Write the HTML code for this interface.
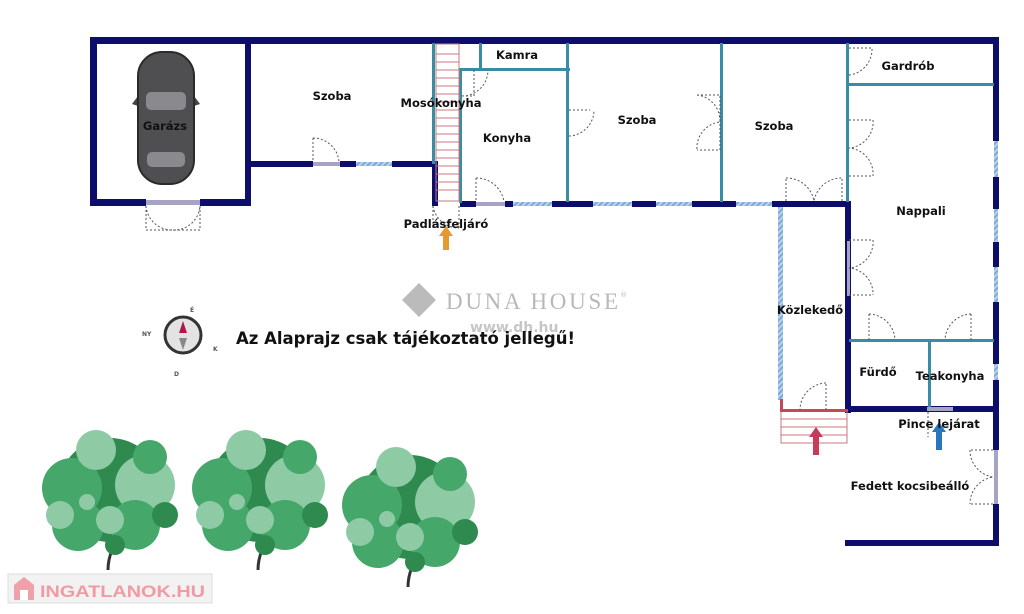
<!DOCTYPE html>
<html><head><meta charset="utf-8"><style>
html,body{margin:0;padding:0;background:#fff;width:1024px;height:614px;overflow:hidden}
svg{display:block}
text{font-family:"DejaVu Sans","Liberation Sans",sans-serif;font-weight:bold;fill:#111}
</style></head><body>
<svg width="1024" height="614" viewBox="0 0 1024 614" xmlns="http://www.w3.org/2000/svg">
<defs>
<pattern id="h" width="4" height="4" patternUnits="userSpaceOnUse" patternTransform="rotate(45)">
<rect width="4" height="4" fill="#b9d3ea"/><rect width="2" height="4" fill="#7fa9d6"/></pattern>
</defs>
<g fill="#0d0d6b">
<rect x="90" y="37" width="909" height="7"/>
<rect x="90" y="37" width="7" height="169"/>
<rect x="90" y="199" width="56" height="7"/>
<rect x="200" y="199" width="51" height="7"/>
<rect x="245" y="37" width="6" height="169"/>
<rect x="245" y="161" width="68" height="6"/>
<rect x="340" y="161" width="16" height="6"/>
<rect x="392" y="161" width="45" height="6"/>
<rect x="432" y="161" width="6" height="45"/>
<rect x="460" y="201" width="16" height="6"/>
<rect x="505" y="201" width="8" height="6"/>
<rect x="552" y="201" width="41" height="6"/>
<rect x="632" y="201" width="24" height="6"/>
<rect x="692" y="201" width="44" height="6"/>
<rect x="772" y="201" width="79" height="6"/>
<rect x="845" y="201" width="6" height="212"/>
<rect x="845" y="406" width="154" height="6"/>
<rect x="993" y="37" width="6" height="104"/>
<rect x="993" y="177" width="6" height="32"/>
<rect x="993" y="242" width="6" height="25"/>
<rect x="993" y="302" width="6" height="62"/>
<rect x="993" y="380" width="6" height="70"/>
<rect x="993" y="504" width="6" height="42"/>
<rect x="845" y="540" width="154" height="6"/>
</g>
<g fill="url(#h)">
<rect x="356" y="162" width="36" height="4"/>
<rect x="513" y="202" width="39" height="4"/>
<rect x="593" y="202" width="39" height="4"/>
<rect x="656" y="202" width="36" height="4"/>
<rect x="736" y="202" width="36" height="4"/>
<rect x="994" y="141" width="4" height="36"/>
<rect x="994" y="209" width="4" height="33"/>
<rect x="994" y="267" width="4" height="35"/>
<rect x="994" y="364" width="4" height="16"/>
<rect x="778" y="207" width="5" height="193"/>
</g>
<g fill="#a7a3c4">
<rect x="313" y="162" width="27" height="4"/>
<rect x="476" y="202" width="29" height="4"/>
<rect x="146" y="200" width="54" height="5"/>
<rect x="847" y="241" width="3" height="55"/>
<rect x="994" y="450" width="4" height="54"/>
<rect x="927" y="407" width="26" height="4"/>
</g>
<g fill="#3a8ba4">
<rect x="432" y="43" width="3" height="121"/>
<rect x="459" y="69" width="3" height="134"/>
<rect x="479" y="43" width="3" height="28"/>
<rect x="459" y="68" width="111" height="3"/>
<rect x="566" y="43" width="3" height="159"/>
<rect x="720" y="43" width="3" height="159"/>
<rect x="846" y="43" width="3" height="159"/>
<rect x="846" y="83" width="148" height="3"/>
<rect x="849" y="339" width="145" height="3"/>
<rect x="928" y="339" width="3" height="68"/>
</g>
<g stroke="#c9797e" stroke-width="1" fill="none">
<rect x="436" y="44" width="23" height="157"/>
<path d="M436 54H459M436 62H459M436 70H459M436 78H459M436 86H459M436 94H459M436 102H459M436 110H459M436 118H459M436 126H459M436 134H459M436 142H459M436 150H459M436 158H459M436 166H459M436 174H459M436 182H459M436 190H459"/>
<rect x="781" y="411" width="66" height="32"/>
<path d="M781 419H847M781 427H847M781 435H847"/>
</g>
<rect x="780" y="399" width="3" height="12" fill="#c24a55"/>
<rect x="780" y="409" width="68" height="3" fill="#c24a55"/>
<g stroke="#555" stroke-width="1" fill="none" stroke-dasharray="2,2">
<path d="M313 138V162M313 138A26 26 0 0 1 339 162"/>
<path d="M476 178V202M476 178A28 28 0 0 1 504 202"/>
<path d="M462 96H474V70M462 96A26 26 0 0 0 488 70"/>
<path d="M569 110H590M569 136A26 26 0 0 0 594 110"/>
<path d="M697 95H720V150H697M697 95A26 26 0 0 1 720 122A26 26 0 0 0 697 150"/>
<path d="M786 201V178M842 201V178M786 178A28 28 0 0 1 814 201A28 28 0 0 1 842 178"/>
<path d="M849 48H872M849 75A26 26 0 0 0 872 48"/>
<path d="M849 120H873M849 176H873M873 120A26 26 0 0 1 849 148A26 26 0 0 1 873 176"/>
<path d="M849 240H873M849 295H873M873 240A26 26 0 0 1 849 268A26 26 0 0 1 873 295"/>
<path d="M869 340V314M869 314A27 27 0 0 1 895 340"/>
<path d="M971 340V314M971 314A27 27 0 0 0 945 340"/>
<path d="M826 410V383M826 383A27 27 0 0 0 800 410"/>
<path d="M146 206V230H172M200 206V230H172M146 206A26 26 0 0 0 172 230A26 26 0 0 0 200 206"/>
<path d="M433 206V228M459 206V228M433 206A26 26 0 0 0 459 228"/>
<path d="M928 412V437M993 450H970M993 504H970M970 450A27 27 0 0 0 993 477A27 27 0 0 0 970 504"/>
</g>
<g>
<path d="M132 104l6-8v10zM200 104l-6-8v10z" fill="#444"/>
<rect x="138" y="52" width="56" height="132" rx="24" fill="#4f4f52" stroke="#2a2a2a" stroke-width="2"/>
<rect x="146" y="92" width="40" height="18" rx="5" fill="#8a8a8e"/>
<rect x="147" y="152" width="38" height="15" rx="5" fill="#8a8a8e"/>
</g>
<path d="M446 226l-7 10h4v14h6v-14h4z" fill="#e49a2f"/>
<path d="M816 427l-7 10h4v18h6v-18h4z" fill="#c93a57"/>
<path d="M939 422l-7 10h4v18h6v-18h4z" fill="#2a76bd"/>
<g font-size="11.5">
<text x="165" y="130" text-anchor="middle">Garázs</text>
<text x="332" y="100" text-anchor="middle">Szoba</text>
<text x="441" y="107" text-anchor="middle">Mosókonyha</text>
<text x="517" y="59" text-anchor="middle">Kamra</text>
<text x="507" y="142" text-anchor="middle">Konyha</text>
<text x="637" y="124" text-anchor="middle">Szoba</text>
<text x="774" y="130" text-anchor="middle">Szoba</text>
<text x="908" y="70" text-anchor="middle">Gardrób</text>
<text x="921" y="215" text-anchor="middle">Nappali</text>
<text x="810" y="314" text-anchor="middle">Közlekedő</text>
<text x="878" y="376" text-anchor="middle">Fürdő</text>
<text x="950" y="380" text-anchor="middle">Teakonyha</text>
<text x="939" y="428" text-anchor="middle">Pince lejárat</text>
<text x="910" y="490" text-anchor="middle">Fedett kocsibeálló</text>
<text x="446" y="228" text-anchor="middle">Padlásfeljáró</text>
</g>
<g>
<rect x="407" y="288" width="24" height="24" fill="#bbb" transform="rotate(45 419 300)"/>
<text x="446" y="309" font-size="23" style="fill:#b8b8b8;font-family:'Liberation Serif',serif;font-weight:normal" textLength="172">DUNA HOUSE</text>
<text x="620" y="297" font-size="7" style="fill:#bbb;font-weight:normal">®</text>
<text x="470" y="332" font-size="14" style="fill:#c6c6c6">www.dh.hu</text>
</g>
<text x="236" y="344" font-size="16.5">Az Alaprajz csak tájékoztató jellegű!</text>
<g>
<circle cx="183" cy="335" r="18" fill="#e3e3e3" stroke="#333" stroke-width="3"/>
<path d="M183 321l-4 12h8z" fill="#b0184a"/>
<path d="M183 350l-4-12h8z" fill="#888"/>
<text x="190" y="312" font-size="6" style="fill:#555">É</text>
<text x="142" y="336" font-size="6" style="fill:#555">NY</text>
<text x="213" y="351" font-size="6" style="fill:#555">K</text>
<text x="174" y="376" font-size="6" style="fill:#555">D</text>
</g>
<g id="t">
<path d="M112 550q-4 10 -4 20" stroke="#333" stroke-width="3" fill="none"/>
<circle cx="110" cy="490" r="52" fill="#2f8a4f"/>
<circle cx="72" cy="488" r="30" fill="#45a86a"/>
<circle cx="145" cy="485" r="30" fill="#8ecba5"/>
<circle cx="96" cy="450" r="20" fill="#8ecba5"/>
<circle cx="150" cy="457" r="17" fill="#45a86a"/>
<circle cx="78" cy="525" r="26" fill="#45a86a"/>
<circle cx="135" cy="525" r="25" fill="#45a86a"/>
<circle cx="60" cy="515" r="14" fill="#8ecba5"/>
<circle cx="110" cy="520" r="14" fill="#8ecba5"/>
<circle cx="165" cy="515" r="13" fill="#2f8a4f"/>
<circle cx="115" cy="545" r="10" fill="#2f8a4f"/>
<circle cx="87" cy="502" r="8" fill="#8ecba5"/>
</g>
<use href="#t" x="150"/>
<use href="#t" x="300" y="17"/>
<rect x="8" y="574" width="204" height="29" fill="#f2f2f2" stroke="#ddd"/>
<path d="M14 585l10-8 10 8v15h-20z" fill="#f0a0a8"/>
<rect x="20" y="590" width="8" height="10" fill="#fff"/>
<text x="40" y="597" font-size="17" style="fill:#f19aa3;font-family:'Liberation Sans',sans-serif" textLength="165" lengthAdjust="spacingAndGlyphs">INGATLANOK.HU</text>
</svg>
</body></html>
